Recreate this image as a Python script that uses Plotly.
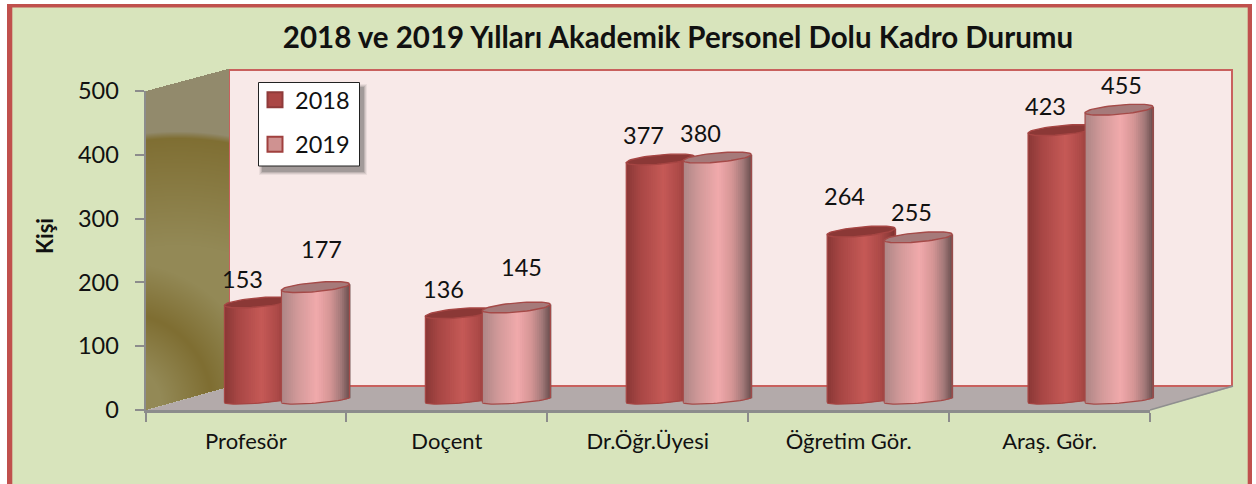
import base64, struct, zlib
import numpy as np
import plotly.graph_objects as go

# ---------- data ----------
categories = ["Profesör", "Doçent", "Dr.Öğr.Üyesi", "Öğretim Gör.", "Araş. Gör."]
values_2018 = [153, 136, 377, 264, 423]
values_2019 = [177, 145, 380, 255, 455]
series_names = ["2018", "2019"]
y_ticks = [0, 100, 200, 300, 400, 500]
title_text = "2018 ve 2019 Yılları Akademik Personel Dolu Kadro Durumu"
y_title = "Kişi"
# label nudges (px right, px up) relative to the bar's centre/top
shifts_2018 = [(-16, 23), (-16, 24), (-17, 24.5), (-17, 35.6), (-17, 24)]
shifts_2019 = [(6.5, 38.5), (5.5, 40), (-16.5, 24.6), (-6.5, 25), (2.5, 24.7)]

# ---------- style / geometry ----------
W, H = 1256, 484
FONT = "Lato"
NUM_SIZE = 23.5
AX_L, AX_R, AX_T, AX_B = 145.5, 1150, 91, 410
DX, BASE_PX = 41, 400
K = (AX_B - AX_T) / 500            # px per unit
CAT_PX = (AX_R - AX_L) / 5
BAR_PX = 68
RX = BAR_PX / 2
RY_TOP, TILT_TOP, RY_BOT, TILT_BOT = 4.6, 3.0, 3.2, 2.6
N_STRIPS = 36
GRAD_2018 = [(0, "#8a3836"), (.2, "#a84745"), (.55, "#c65a57"), (.78, "#ad4a48"), (1, "#7f3331")]
GRAD_2019 = [(0, "#ad8686"), (.25, "#d49b9b"), (.52, "#f1aaac"), (.72, "#d59595"), (.87, "#a67b7b"), (1, "#6b5050")]
CAP_2018, CAP_2019 = "#8b3836", "#a67a7a"
EDGE_2018, EDGE_2019 = "#a64543", "#a54a48"


def px_x(p):
    return p / W


def px_y(p):
    return 1 - p / H


def rgb(h):
    return np.array([int(h[i:i + 2], 16) for i in (1, 3, 5)], float)


def grad(stops, u):
    xs = [s[0] for s in stops]
    cs = np.array([rgb(s[1]) for s in stops])
    c = [np.interp(u, xs, cs[:, j]) for j in range(3)]
    return "rgb(%d,%d,%d)" % tuple(c)


def poly(points, **kw):
    d = "M" + "L".join(f"{px_x(x):.5f},{px_y(y):.5f}" for x, y in points) + "Z"
    return dict(type="path", xref="paper", yref="paper", path=d, layer="below", **kw)


def rect(x0, y0, x1, y1, fill, line=None, lw=0, opacity=1):
    return dict(type="rect", xref="paper", yref="paper", x0=px_x(x0), x1=px_x(x1), y0=px_y(y0), y1=px_y(y1),
                fillcolor=fill, line=dict(color=line or fill, width=lw), layer="below", opacity=opacity)


WX0, WX1, WY0, WY1 = 146, 229, 68, 411


def wall_png():
    x0, x1, y0, y1 = WX0, WX1, WY0, WY1
    w, h = x1 - x0, y1 - y0
    dark, light, top = np.array([127, 110, 50.]), np.array([147, 137, 86.]), np.array([146, 138, 108.])
    rows = []
    for j in range(h):
        row = bytearray([0])
        py = y0 + j + .5
        for i in range(w):
            px = x0 + i + .5
            f = (px - 146) / 82
            yt, yb = 91 + (69 - 91) * f, 410 + (387 - 410) * f
            a = 255 if yt <= py <= yb else 0
            d1 = 284 - np.hypot(px - 178, py - 419)
            d2 = np.hypot(px - 120, py - 405) - 92
            lv = min(1, max(d1, 0) / 110) * min(1, abs(d2) / 50)
            c = dark + lv * (light - dark)
            c = top + (c - top) * np.clip(d1 / 7 + .5, 0, 1)
            row += bytes([int(c[0]), int(c[1]), int(c[2]), a])
        rows.append(bytes(row))

    def chunk(t, b):
        return struct.pack(">I", len(b)) + t + b + struct.pack(">I", zlib.crc32(t + b))
    png = b"\x89PNG\r\n\x1a\n" + chunk(b"IHDR", struct.pack(">IIBBBBB", w, h, 8, 6, 0, 0, 0)) + \
        chunk(b"IDAT", zlib.compress(b"".join(rows))) + chunk(b"IEND", b"")
    return "data:image/png;base64," + base64.b64encode(png).decode()


fig = go.Figure()

# invisible trace that carries the category axis
fig.add_trace(go.Scatter(x=categories, y=[0] * 5, mode="markers", marker=dict(opacity=0), hoverinfo="skip",
                         showlegend=False))
# invisible trace that creates the side-wall subplot
fig.add_trace(go.Scatter(x=[0], y=[0], xaxis="x2", yaxis="y2", mode="markers", marker=dict(opacity=0),
                         hoverinfo="skip", showlegend=False))

# legend entries
for name, col, edge in zip(series_names, ["#ab4745", "#cf9291"], ["#8f3b3a", "#a0403e"]):
    fig.add_trace(go.Scatter(x=[None], y=[None], mode="markers", name=name, legendgroup=name,
                             marker=dict(symbol="square", size=15, color=col, line=dict(color=edge, width=2))))

idx = np.arange(5)
for vals, stops, ax, off_px, cap, edge in [
    (values_2018, GRAD_2018, ("x3", "y3"), -62.5, CAP_2018, EDGE_2018),
    (values_2019, GRAD_2019, ("x4", "y4"), -5.5, CAP_2019, EDGE_2019),
]:
    vals = np.array(vals, float)
    strip = BAR_PX / N_STRIPS
    for s in range(N_STRIPS):
        u = (s + .5) / N_STRIPS * 2 - 1
        b = (TILT_BOT * u - RY_BOT * np.sqrt(1 - u * u)) / K
        t = vals + TILT_TOP * u / K
        fig.add_trace(go.Bar(x=idx, y=t - b, base=[b] * 5, xaxis=ax[0], yaxis=ax[1],
                             offset=(off_px + s * strip) / CAT_PX, width=(strip + 1) / CAT_PX,
                             marker=dict(color=grad(stops, (u + 1) / 2), line=dict(width=0)),
                             hoverinfo="skip", showlegend=False))
    # bar outlines and caps
    th = np.linspace(0, 2 * np.pi, 61)
    th_b = np.linspace(np.pi, 2 * np.pi, 31)
    cx_off = (off_px + RX) / CAT_PX
    ox, oy, cx_all, cy_all = [], [], [], []
    for i, v in zip(idx, vals):
        ox += list(i + cx_off + RX * np.cos(th_b) / CAT_PX) + [i + cx_off + RX / CAT_PX, None]
        oy += list((TILT_BOT * np.cos(th_b) + RY_BOT * np.sin(th_b)) / K) + [v + TILT_TOP / K, None]
        ox += [i + cx_off - RX / CAT_PX, i + cx_off - RX / CAT_PX, None]
        oy += [v - TILT_TOP / K, -TILT_BOT / K, None]
        cx_all += list(i + cx_off + RX * np.cos(th) / CAT_PX) + [None]
        cy_all += list(v + (TILT_TOP * np.cos(th) + RY_TOP * np.sin(th)) / K) + [None]
    fig.add_trace(go.Scatter(x=ox, y=oy, mode="lines", xaxis=ax[0], yaxis=ax[1],
                             line=dict(color=edge, width=1.2), hoverinfo="skip", showlegend=False))
    fig.add_trace(go.Scatter(x=cx_all, y=cy_all, mode="lines", fill="toself", fillcolor=cap, xaxis=ax[0], yaxis=ax[1],
                             line=dict(color=edge, width=1.4), hoverinfo="skip", showlegend=False))

# data labels
annotations = []
for vals, shifts, off_px, ax in [(values_2018, shifts_2018, -62.5, ("x3", "y3")),
                                 (values_2019, shifts_2019, -5.5, ("x4", "y4"))]:
    for i, (v, sh) in enumerate(zip(vals, shifts)):
        annotations.append(dict(x=i + (off_px + RX) / CAT_PX, y=v, xref=ax[0], yref=ax[1], text=str(v),
                                showarrow=False, xanchor="center", yanchor="middle",
                                xshift=sh[0], yshift=sh[1], font=dict(family=FONT, size=NUM_SIZE, color="#111111")))
annotations.append(dict(x=px_x(45), y=px_y(236), xref="paper", yref="paper", text=f"<b>{y_title}</b>", textangle=-90,
                        showarrow=False, xanchor="center", yanchor="middle",
                        font=dict(family=FONT, size=22, color="#111111")))

# background, back wall, floor, legend shadow and box
shapes = [
    rect(7, 4, 1252, 495, "#c0504d"),
    rect(12.3, 7.5, 1247.7, 495, "#d8e4bc"),
    rect(229, 70, 1232, 386, "#f8e9e8", "#c9605d", 2),
    poly([(146, 410), (228, 387), (1233, 387), (1150, 410)], fillcolor="#b3aaaa", line=dict(width=0)),
    poly([(1150, 410), (1233, 386)], line=dict(color="#8f8f8f", width=1.5)),
]
for g, op in [(8, .07), (6, .10), (4, .14), (2, .20)]:
    shapes.append(rect(258 + 5 - g / 2, 82 + 6 - g / 2, 360 + 3 + g / 2, 166 + 5 + g / 2, "#333333", opacity=op))
shapes.append(rect(258.5, 82.5, 359.5, 166, "white", "#222222", 1))

fig.update_layout(
    width=W, height=H, autosize=False, margin=dict(l=0, r=0, t=0, b=0, pad=0, autoexpand=False),
    paper_bgcolor="white", plot_bgcolor="rgba(0,0,0,0)", barmode="overlay", shapes=shapes, annotations=annotations,
    images=[dict(source=wall_png(), xref="x2", yref="y2", x=0, y=1, sizex=1, sizey=1,
                 sizing="stretch", xanchor="left", yanchor="top", layer="below")],
    title=dict(text=f"<b>{title_text}</b>", x=678 / W, xanchor="center", y=px_y(38), yanchor="middle",
               font=dict(family=FONT, size=29.5, color="#111111")),
    legend=dict(x=px_x(255), y=px_y(78), xanchor="left", yanchor="top", bgcolor="rgba(0,0,0,0)", borderwidth=0,
                font=dict(family=FONT, size=NUM_SIZE, color="#111111"), tracegroupgap=11, traceorder="grouped"),
    xaxis=dict(type="category", categoryorder="array", categoryarray=categories, tickson="boundaries",
               domain=[px_x(AX_L), px_x(AX_R)], range=[-.5, 4.5], showgrid=False, zeroline=False, showline=True,
               linecolor="#8c8c8c", linewidth=3, ticks="outside", ticklen=9, tickwidth=2, tickcolor="#8c8c8c",
               ticklabelstandoff=10, tickfont=dict(family=FONT, size=22, color="#111111")),
    yaxis=dict(domain=[px_y(AX_B), px_y(AX_T)], range=[0, 500], tickvals=y_ticks, showgrid=False, zeroline=False,
               showline=True, linecolor="#8c8c8c", linewidth=2, ticks="outside", ticklen=9, tickwidth=2,
               tickcolor="#8c8c8c", ticklabelstandoff=11, tickfont=dict(family=FONT, size=NUM_SIZE, color="#111111")),
    xaxis2=dict(domain=[px_x(WX0), px_x(WX1)], range=[0, 1], visible=False, anchor="y2"),
    yaxis2=dict(domain=[px_y(WY1), px_y(WY0)], range=[0, 1], visible=False, anchor="x2"),
    xaxis3=dict(domain=[px_x(AX_L + DX), px_x(AX_R + DX)], range=[-.5, 4.5], visible=False, anchor="y3"),
    yaxis3=dict(domain=[px_y(BASE_PX + 20 * K), px_y(BASE_PX - 520 * K)], range=[-20, 520], visible=False, anchor="x3"),
    xaxis4=dict(overlaying="x3", range=[-.5, 4.5], visible=False, anchor="y4"),
    yaxis4=dict(overlaying="y3", range=[-20, 520], visible=False, anchor="x4"),
)

fig.write_html("out.html", post_script="document.body.style.margin='0';document.body.style.overflow='hidden';",
               config=dict(displayModeBar=False))
